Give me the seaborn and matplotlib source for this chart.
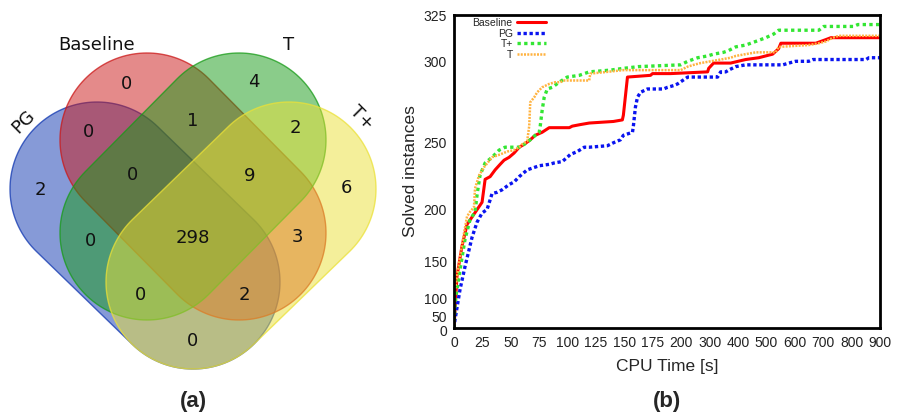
import numpy as np
import pandas as pd
import matplotlib
matplotlib.use("Agg")
import matplotlib.pyplot as plt
from matplotlib.patches import Polygon
from matplotlib.transforms import ScaledTranslation
import seaborn as sns

# ---------------- data ----------------
# Venn (a): solved-instance overlaps
set_names = ["PG", "Baseline", "T", "T+"]
region_keys = ["Baseline", "T", "PG", "T+", "Baseline&PG", "Baseline&T", "T&T+",
               "Baseline&T&PG", "Baseline&T&T+", "all", "PG&T", "Baseline&T+",
               "PG&T&T+", "Baseline&PG&T+", "PG&T+"]
region_counts = [0, 4, 2, 6, 0, 1, 2, 0, 9, 298, 0, 3, 0, 2, 0]

# (b): solved instances over CPU time
baseline_t = [0, 2.6, 7, 11.5, 24.7, 27.4, 31.8, 36.2, 40.6, 44.1, 48.5, 52.9, 57.4, 61.8, 67.1,
              71.5, 77.6, 83.8, 101.5, 104.1, 111.2, 119.1, 140.3, 148.2, 149.1, 152.7, 173,
              174.7, 190.6, 293, 296.7, 314, 374, 427, 473, 522, 543, 551, 674, 692, 710, 727,
              734, 900]
baseline_n = [0, 132, 166, 187, 206, 224, 226, 231, 235, 238, 240, 243, 247, 249, 252, 255, 257,
              260, 260, 261, 262, 263, 264, 265, 268, 291, 292, 293, 293, 294, 296, 299, 299, 301,
              302, 304, 307, 310, 310, 311, 312, 313, 313, 313]

pg_t = [0, 0.9, 5.3, 9.7, 15.9, 20.3, 24.7, 29.1, 31.8, 33.5, 37.9, 42.4, 48.5, 52.9, 57.4,
        64.4, 71.5, 75, 83.8, 88.2, 95.3, 99.7, 102.4, 108.5, 114.7, 119.1, 135, 140.3, 146.5,
        149.1, 157.1, 157.9, 159.7, 161.5, 164.1, 170.3, 184.4, 188, 193.3, 196.8, 205, 223,
        244, 328, 339, 357, 367, 392, 427, 558, 579, 603, 649, 664, 851, 861, 900]
pg_n = [0, 53, 114, 144, 175, 189, 197, 200, 208, 213, 214, 216, 220, 222, 226, 231, 233, 234,
        235, 236, 237, 240, 242, 244, 247, 247, 248, 250, 252, 255, 257, 261, 273, 279, 282,
        284, 284, 285, 286, 287, 289, 291, 291, 291, 294, 294, 295, 297, 298, 298, 299, 300,
        300, 301, 301, 302, 302]

tplus_t = [0, 0.9, 2.6, 5.3, 9.7, 14.1, 18.5, 20.3, 22.9, 27.4, 33.5, 39.7, 45, 57.4, 61.8,
           67.1, 71.5, 75, 75.9, 77.6, 79.4, 82.1, 86.5, 92.6, 99.7, 110.3, 119.1, 137.6, 149.1,
           162.4, 199.5, 223, 258, 293, 314, 349, 367, 392, 427, 463, 498, 526, 543, 558, 685,
           702, 808, 822, 900]
tplus_n = [0, 92, 114, 140, 173, 191, 198, 212, 227, 236, 240, 245, 247, 247, 249, 252, 255,
           257, 261, 271, 279, 284, 285, 288, 291, 292, 294, 295, 296, 297, 298, 300, 302, 303,
           304, 305, 306, 308, 309, 311, 313, 315, 317, 317, 317, 319, 319, 320, 320]

t_t = [0, 0.9, 4.4, 8.8, 11.5, 14.1, 17.6, 18.5, 22.1, 26.5, 33.5, 40.6, 46.8, 52.9, 57.4, 60,
       64.4, 66.2, 67.1, 70.6, 73.2, 77.6, 83.8, 89.1, 93.5, 97, 119, 120, 135, 149, 199.5, 223,
       244, 268, 304, 339, 374, 392, 427, 463, 509, 533, 543, 649, 685, 710, 734, 755, 900]
t_n = [0, 114, 148, 179, 194, 198, 202, 217, 227, 233, 240, 242, 244, 245, 247, 249, 251, 261,
       276, 279, 282, 285, 287, 288, 288, 289, 289, 293, 294, 295, 295, 297, 298, 299, 300, 301,
       302, 303, 304, 305, 305, 305, 308, 309, 310, 311, 313, 314, 314]

x_ticks = [0, 25, 50, 75, 100, 125, 150, 175, 200, 300, 400, 500, 600, 700, 800, 900]
y_ticks = [0, 50, 100, 150, 200, 250, 300, 325]

# ---------------- style ----------------
sns.set_style("white")
plt.rcParams["font.family"] = ["DejaVu Sans"]

W, H = 898, 419
fig = plt.figure(figsize=(W / 100, H / 100), dpi=100)

# ---------------- (a) Venn ----------------
axa = fig.add_axes([0, 0, 400 / W, 1])
axa.set_xlim(0, 400)
axa.set_ylim(H, 0)
axa.set_axis_off()


def capsule(p1, p2, r, n=80):
    p1 = np.asarray(p1, float)
    p2 = np.asarray(p2, float)
    d = p2 - p1
    ang = np.arctan2(d[1], d[0])
    a2 = np.linspace(ang - np.pi / 2, ang + np.pi / 2, n)
    a1 = np.linspace(ang + np.pi / 2, ang + 3 * np.pi / 2, n)
    pts = np.vstack([p2 + r * np.c_[np.cos(a2), np.sin(a2)],
                     p1 + r * np.c_[np.cos(a1), np.sin(a1)]])
    return pts


R = 87
shapes = {
    "PG": ((97, 189), (193, 282)),
    "Baseline": ((147, 140), (239, 233)),
    "T": ((239, 140), (147, 233)),
    "T+": ((289, 189), (193, 282)),
}
fills = {"PG": "#0F36B0", "Baseline": "#CB1717", "T": "#179B17", "T+": "#EBE137"}
for name in set_names:
    p1, p2 = shapes[name]
    axa.add_patch(Polygon(capsule(p1, p2, R), closed=True, facecolor=fills[name],
                          alpha=0.5, edgecolor="none"))
    axa.add_patch(Polygon(capsule(p1, p2, R), closed=True, facecolor="none",
                          edgecolor=fills[name], lw=1.0, alpha=0.75))

region_pos = {
    "Baseline": (127, 84), "T": (254, 82), "PG": (40, 190), "T+": (346, 188),
    "Baseline&PG": (88, 132), "Baseline&T": (193, 121), "T&T+": (295, 128),
    "Baseline&T&PG": (133, 175), "Baseline&T&T+": (250, 176), "all": (193, 238),
    "PG&T": (90, 241), "Baseline&T+": (297, 237), "PG&T&T+": (141, 295),
    "Baseline&PG&T+": (244, 295), "PG&T+": (193, 341),
}
for key, cnt in zip(region_keys, region_counts):
    x, y = region_pos[key]
    axa.text(x, y, str(cnt), ha="center", va="center", fontsize=13, color="#111111")

label_pos = {"Baseline": (97, 45, 0), "T": (289, 45, 0), "PG": (23, 122, 45), "T+": (362, 118, -45)}
for name in set_names:
    x, y, rot = label_pos[name]
    axa.text(x, y, name, ha="center", va="center", fontsize=13, rotation=rot, color="#111111")

# ---------------- (b) line chart ----------------
L, Rr, T, B = 454, 880, 15, 328
axb = fig.add_axes([L / W, 1 - B / H, (Rr - L) / W, (B - T) / H])


def xf(x):
    x = np.asarray(x, float)
    return np.where(x <= 200, x / 25.0, 8 + (x - 200) / 100.0)


def xi(t):
    t = np.asarray(t, float)
    return np.where(t <= 8, t * 25.0, 200 + (t - 8) * 100.0)


def yf(y):
    y = np.asarray(y, float)
    return np.sign(y) * y ** 2


def yi(t):
    t = np.asarray(t, float)
    return np.sign(t) * np.sqrt(np.abs(t))


axb.set_xscale("function", functions=(xf, xi))
axb.set_yscale("function", functions=(yf, yi))

series = [
    ("Baseline", baseline_t, baseline_n, "#FF0000", "-", 2.2),
    ("PG", pg_t, pg_n, "#0A14F0", (0, (1.0, 0.8)), 2.4),
    ("T+", tplus_t, tplus_n, "#33E633", (0, (1.0, 1.0)), 2.4),
    ("T", t_t, t_n, "#FFB340", (0, (0.8, 0.5)), 1.8),
]
for name, tt, nn, col, ls, lw in series:
    df = pd.DataFrame({"t": tt, "n": nn})
    sns.lineplot(data=df, x="t", y="n", ax=axb, color=col, linestyle=ls, lw=lw,
                 label=name, estimator=None, sort=False)

axb.set_xlim(0, 900)
axb.set_ylim(0, 325)
axb.set_xticks(x_ticks)
axb.set_xticklabels([str(v) for v in x_ticks])
axb.set_yticks(y_ticks)
axb.set_yticklabels([str(v) for v in y_ticks])
axb.minorticks_off()

for lab in axb.get_xticklabels() + axb.get_yticklabels():
    lab.set_fontfamily("Liberation Sans")
    lab.set_fontsize(10)
    lab.set_color("#222222")

axb.tick_params(axis="both", direction="inout", length=8, width=1.6, colors="black",
                labelcolor="#222222")
axb.tick_params(axis="x", pad=2)
axb.tick_params(axis="y", pad=1)

# nudge the crowded "50" / "0" labels apart like in the reference
ylabs = axb.get_yticklabels()
ylabs[1].set_transform(ylabs[1].get_transform() + ScaledTranslation(0, 4.5 / 100, fig.dpi_scale_trans))
ylabs[0].set_transform(ylabs[0].get_transform() + ScaledTranslation(0, -2 / 100, fig.dpi_scale_trans))

for sp in axb.spines.values():
    sp.set_visible(True)
    sp.set_linewidth(2.0)
    sp.set_color("black")

axb.set_xlabel("CPU Time [s]", fontfamily="Liberation Sans", fontsize=12.5, labelpad=6)
axb.set_ylabel("Solved instances", fontfamily="Liberation Sans", fontsize=12.5, labelpad=4)

leg = axb.legend(loc="upper right", bbox_to_anchor=((546 - L) / (Rr - L), 1 - 3 / (B - T)),
                 frameon=False, markerfirst=False, labelspacing=0.05,
                 handlelength=2.8, handletextpad=0.4, borderpad=0, borderaxespad=0,
                 prop={"family": "Liberation Sans", "size": 7.5})

fig.text(193 / W, 1 - 401 / H, "(a)", ha="center", va="center", fontsize=16,
         fontweight="bold", fontfamily="Liberation Sans")
fig.text(667 / W, 1 - 401 / H, "(b)", ha="center", va="center", fontsize=16,
         fontweight="bold", fontfamily="Liberation Sans")

fig.savefig("out.png", dpi=100, facecolor="white")
